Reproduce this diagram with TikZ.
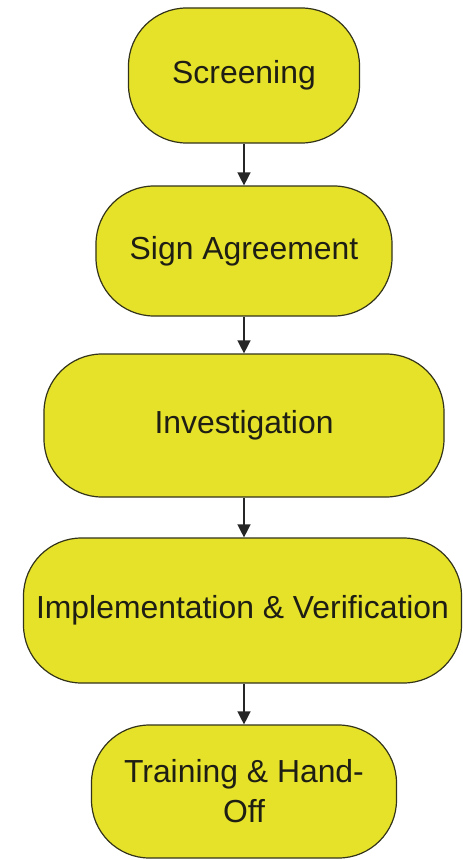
\documentclass[tikz,border=0pt]{standalone}
\usepackage{fontspec}
\setmainfont{Liberation Sans}
\usepackage{tikz}
\usepackage{xcolor}
\usetikzlibrary{arrows.meta,positioning}
\definecolor{stepyellow}{HTML}{E6E22A}
\definecolor{stepedge}{HTML}{33331A}
\definecolor{steptext}{HTML}{1E1E14}
\tikzset{
  stagebox/.style={draw=stepedge,fill=stepyellow,line width=1.2pt,
                   rounded corners=58bp,inner sep=0pt,align=center,
                   text=steptext,font=\fontsize{32}{40}\selectfont},
  stagearr/.style={-{Triangle[length=13bp,width=13bp]},line width=1.4pt,color=black!85}
}

\begin{document}
\begin{tikzpicture}[x=1bp,y=-1bp]
  \useasboundingbox (0,0) rectangle (463,860);
  \node[stagebox,minimum width=231bp,minimum height=135bp] (screen) at (244,75.5) {Screening};
  \node[stagebox,minimum width=296bp,minimum height=130bp] (sign) at (244,251) {Sign Agreement};
  \node[stagebox,minimum width=400bp,minimum height=143bp] (invest) at (244,425.5) {Investigation};
  \node[stagebox,minimum width=438bp,minimum height=145bp] (implver) at (242.5,610.5) {Implementation \& Verification};
  \node[stagebox,minimum width=305bp,minimum height=133bp] (handoff) at (244,791.5) {Training \& Hand-\\Off};
  % flow
  \draw[stagearr] (screen.south) -- (sign.north);
  \draw[stagearr] (sign.south) -- (invest.north);
  \draw[stagearr] (invest.south) -- (implver.north -| invest.south);
  \draw[stagearr] (implver.south -| handoff.north) -- (handoff.north);
\end{tikzpicture}
\end{document}
